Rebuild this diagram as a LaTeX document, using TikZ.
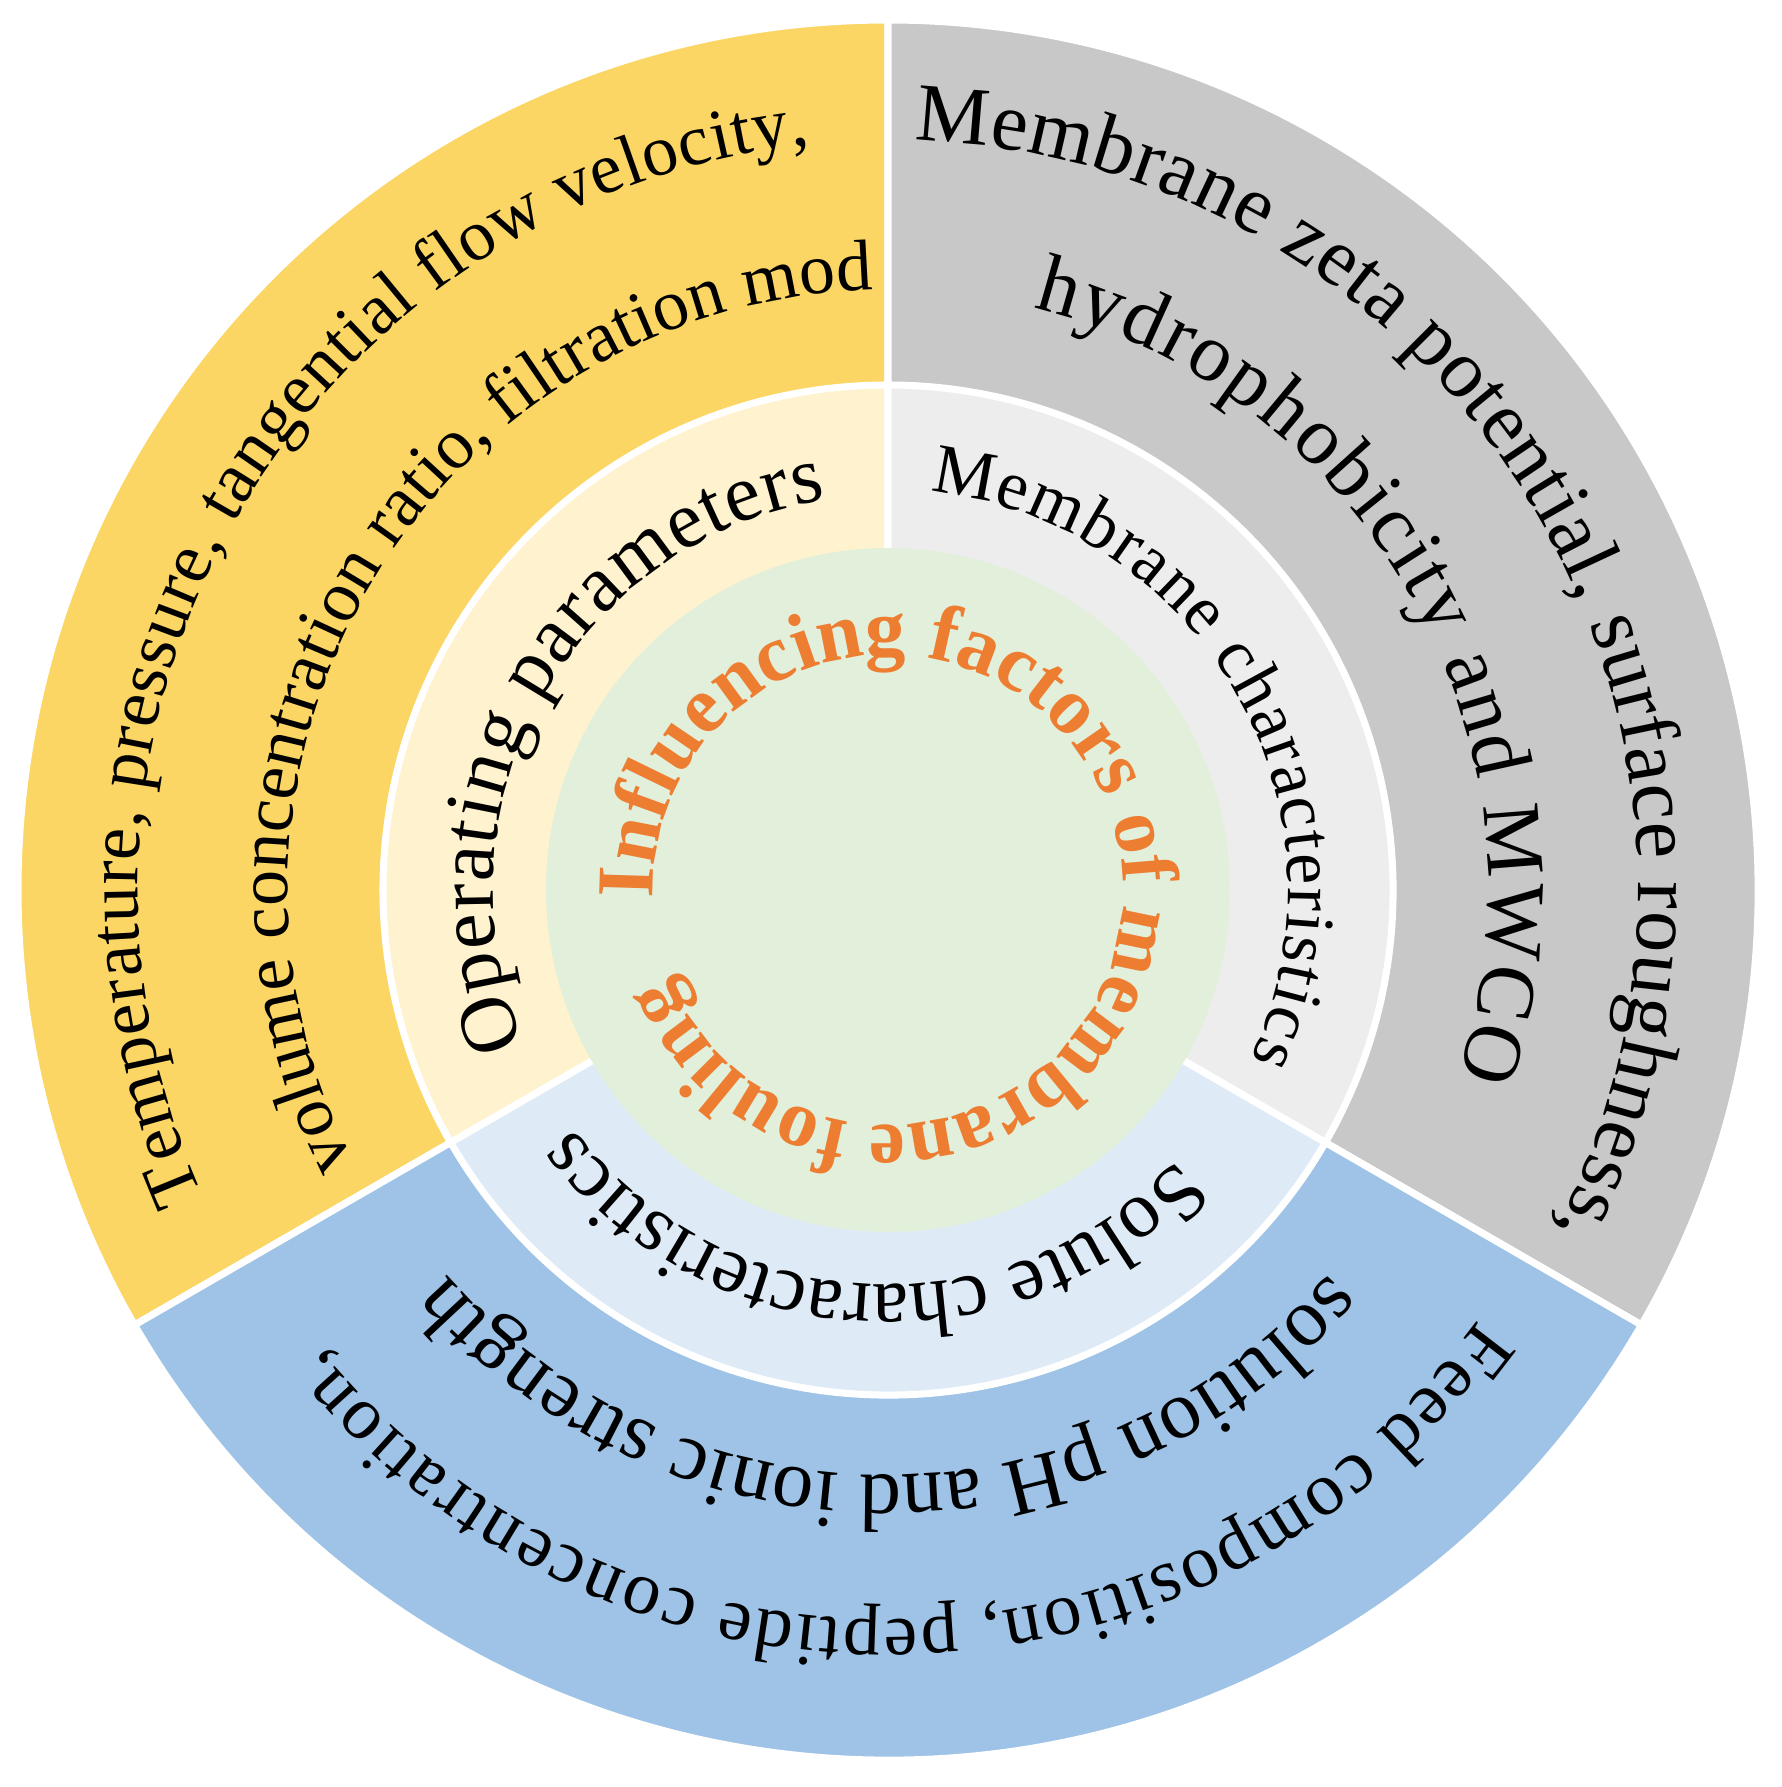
\documentclass[tikz,border=0pt]{standalone}
\usepackage{fontspec}
\setmainfont{Liberation Serif}
\usetikzlibrary{decorations.text}

\begin{document}
\begin{tikzpicture}[
    sector/.style={draw=white, line width=2pt},
    arctext/.style={decorate, decoration={text along path, text align={fit to path}, text={#1}}},
]

% Colors
\definecolor{opyellow}{RGB}{251,214,100}
\definecolor{opyellowlight}{RGB}{255,242,206}
\definecolor{memgray}{RGB}{200,200,200}
\definecolor{memgraylight}{RGB}{237,237,237}
\definecolor{solblue}{RGB}{158,195,230}
\definecolor{solbluelight}{RGB}{222,235,247}
\definecolor{centergreen}{RGB}{226,239,218}
\definecolor{titleorange}{RGB}{237,125,49}

\useasboundingbox (-8.88,-8.97) rectangle (8.93,8.90);
\coordinate (C) at (0,0);

% Outer ring
\filldraw[sector, fill=opyellow] (C) -- (90:8.7) arc[start angle=90, end angle=210, radius=8.7] -- cycle;
\filldraw[sector, fill=memgray] (C) -- (-30:8.7) arc[start angle=-30, end angle=90, radius=8.7] -- cycle;
\filldraw[sector, fill=solblue] (C) -- (210:8.7) arc[start angle=210, end angle=330, radius=8.7] -- cycle;

% Middle ring
\filldraw[sector, fill=opyellowlight] (C) -- (90:5.05) arc[start angle=90, end angle=210, radius=5.05] -- cycle;
\filldraw[sector, fill=memgraylight] (C) -- (-30:5.05) arc[start angle=-30, end angle=90, radius=5.05] -- cycle;
\filldraw[sector, fill=solbluelight] (C) -- (210:5.05) arc[start angle=210, end angle=330, radius=5.05] -- cycle;

% Centre
\fill[centergreen] (C) circle[radius=3.42];

% Outer texts
\path[arctext={|\fontsize{20.5}{24}\selectfont|Temperature, pressure, tangential flow velocity,}]
  (204:7.5) arc[start angle=204, end angle=96, radius=7.5];
\path[arctext={|\fontsize{20.5}{24}\selectfont|volume concentration ratio, filtration mode}]
  (207:6.0) arc[start angle=207, end angle=91, radius=6.0];
\path[arctext={|\fontsize{23.5}{27}\selectfont|Membrane zeta potential, surface roughness,}]
  (88:7.5) arc[start angle=88, end angle=-27, radius=7.5];
\path[arctext={|\fontsize{23.5}{27}\selectfont|hydrophobicity and MWCO}]
  (76:6.0) arc[start angle=76, end angle=-18, radius=6.0];
\path[arctext={|\fontsize{21.5}{25}\selectfont|Feed composition, peptide concentration,}]
  (-36:7.3) arc[start angle=-36, end angle=-141, radius=7.3];
\path[arctext={|\fontsize{23.5}{27}\selectfont|solution pH and ionic strength}]
  (-41:5.85) arc[start angle=-41, end angle=-139, radius=5.85];

% Middle texts
\path[arctext={|\fontsize{23}{26}\selectfont|Operating parameters}]
  (203:3.95) arc[start angle=203, end angle=99, radius=3.95];
\path[arctext={|\fontsize{20}{23}\selectfont|Membrane characteristics}]
  (84:4.0) arc[start angle=84, end angle=-25, radius=4.0];
\path[arctext={|\fontsize{23}{26}\selectfont|Solute characteristics}]
  (-43:3.95) arc[start angle=-43, end angle=-143, radius=3.95];

% Title
\path[decorate, decoration={text along path, text align={fit to path},
    text color=titleorange,
    text={|\fontsize{23}{26}\selectfont\bfseries|Influencing factors of membrane fouling}}]
  (182:2.35) arc[start angle=182, end angle=-157, radius=2.35];

\end{tikzpicture}
\end{document}
